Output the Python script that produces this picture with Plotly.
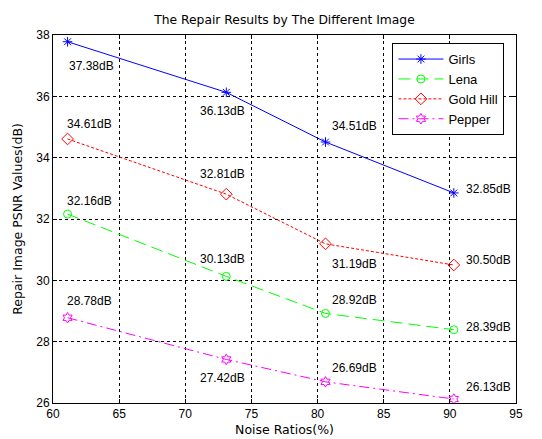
import plotly.graph_objects as go

noise = [61.1, 73.1, 80.6, 90.3]
series_names = ["Girls", "Lena", "Gold Hill", "Pepper"]
girls = [37.78, 36.13, 34.51, 32.85]
lena = [32.16, 30.13, 28.92, 28.39]
gold_hill = [34.61, 32.81, 31.19, 30.50]
pepper = [28.78, 27.42, 26.69, 26.13]
girls_labels = ["37.38dB", "36.13dB", "34.51dB", "32.85dB"]
lena_labels = ["32.16dB", "30.13dB", "28.92dB", "28.39dB"]
gold_labels = ["34.61dB", "32.81dB", "31.19dB", "30.50dB"]
pepper_labels = ["28.78dB", "27.42dB", "26.69dB", "26.13dB"]
x_ticks = [60, 65, 70, 75, 80, 85, 90, 95]
y_ticks = [26, 28, 30, 32, 34, 36, 38]

FONT = "Liberation Sans, Arial, sans-serif"
TFONT = "DejaVu Sans, sans-serif"

styles = [
    dict(color="#0000ff", dash="solid", symbol="asterisk-open", size=8),
    dict(color="#00ff00", dash="12px,6px", symbol="circle-open", size=8),
    dict(color="#ff0000", dash="3px,2px", symbol="diamond-open", size=9),
    dict(color="#ff00ff", dash="10px,4px,2px,4px", symbol="hexagram-open", size=8),
]
values = [girls, lena, gold_hill, pepper]
labels = [girls_labels, lena_labels, gold_labels, pepper_labels]
# pixel offsets (dx, dy-up) of each label from its point
offsets = [
    [(-1, -24), (-28, -19), (4, 16), (10, 4)],
    [(-3, 13), (-28, 17), (4, 13), (10, 3)],
    [(-3, 15), (-28, 20), (4, -20), (10, 5)],
    [(-3, 17), (-28, -19), (4, 14), (10, 12)],
]

fig = go.Figure()
for name, vals, st in zip(series_names, values, styles):
    fig.add_trace(go.Scatter(
        x=noise, y=vals, name=name, mode="lines+markers",
        line=dict(color=st["color"], width=1, dash=st["dash"]),
        marker=dict(symbol=st["symbol"], size=st["size"], color=st["color"],
                    line=dict(color=st["color"], width=1)),
    ))

annotations = []
for vals, labs, offs in zip(values, labels, offsets):
    for xv, yv, t, (dx, dy) in zip(noise, vals, labs, offs):
        annotations.append(dict(
            x=xv, y=yv, xref="x", yref="y", text=t, showarrow=False,
            xanchor="left", yanchor="middle", xshift=dx, yshift=dy,
            font=dict(family=FONT, size=12, color="black"),
        ))

fig.update_layout(
    width=542, height=439,
    margin=dict(l=53, r=26, t=35, b=36, autoexpand=False),
    paper_bgcolor="white", plot_bgcolor="white",
    font=dict(family=FONT, size=12, color="black"),
    title=dict(text="The Repair Results by The Different Image", x=0.5, xanchor="center",
               xref="paper", yref="container", y=1 - 20 / 439, yanchor="middle",
               font=dict(family=TFONT, size=12.3)),
    showlegend=True,
    legend=dict(x=0.975, xanchor="right", y=0.978, yanchor="top",
                bordercolor="black", borderwidth=1, bgcolor="white",
                itemwidth=45,
                font=dict(family=FONT, size=13), tracegroupgap=0),
    annotations=annotations,
)
fig.update_xaxes(
    range=[60, 95], tickvals=x_ticks, ticks="inside", ticklen=4, tickcolor="black",
    showgrid=True, gridcolor="black", griddash="3px,3px", gridwidth=1,
    showline=True, linecolor="black", linewidth=1, mirror="ticks", zeroline=False,
    automargin=False,
    title=dict(text="Noise Ratios(%)", standoff=4, font=dict(family=TFONT, size=12.5)),
    tickfont=dict(family=FONT, size=12),
)
fig.update_yaxes(
    range=[26, 38], tickvals=y_ticks, ticks="inside", ticklen=4, tickcolor="black",
    showgrid=True, gridcolor="black", griddash="3px,3px", gridwidth=1,
    showline=True, linecolor="black", linewidth=1, mirror="ticks", zeroline=False,
    automargin=False,
    title=dict(text="Repair Image PSNR Values(dB)", standoff=10, font=dict(family=TFONT, size=12.5)),
    tickfont=dict(family=FONT, size=12),
)

fig.write_html(
    "out.html",
    config={"displayModeBar": False},
    post_script="document.body.style.margin='0';document.body.style.padding='0';",
)
